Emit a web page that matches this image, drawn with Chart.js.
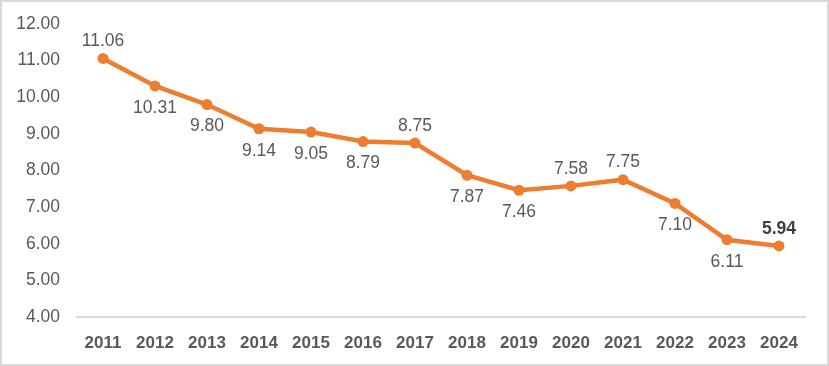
<!DOCTYPE html>
<html>
<head>
<meta charset="utf-8">
<script src="https://cdn.jsdelivr.net/npm/chart.js@4"></script>
<style>
html,body{margin:0;padding:0;background:#fff;}
#wrap{width:829px;height:366px;box-sizing:border-box;border:2px solid #d9d9d9;position:relative;}
</style>
</head>
<body>
<div id="wrap"><canvas id="c"></canvas></div>
<script>
const categories = ['2011','2012','2013','2014','2015','2016','2017','2018','2019','2020','2021','2022','2023','2024'];
const values = [11.06, 10.31, 9.80, 9.14, 9.05, 8.79, 8.75, 7.87, 7.46, 7.58, 7.75, 7.10, 6.11, 5.94];
const labelSide = ['above','below','below','below','below','below','above','below','below','above','above','below','below','above'];
const boldLabel = [false,false,false,false,false,false,false,false,false,false,false,false,false,true];
const yTicks = [4,5,6,7,8,9,10,11,12];

const FONT = '"Liberation Sans", Arial, sans-serif';
const TEXT = '#595959';
const ORANGE = '#ED7D31';

const labelPlugin = {
  id: 'valueLabels',
  afterDatasetsDraw(chart) {
    const ctx = chart.ctx;
    const meta = chart.getDatasetMeta(0);
    ctx.save();
    ctx.textAlign = 'center';
    ctx.textBaseline = 'middle';
    meta.data.forEach((pt, i) => {
      ctx.font = (boldLabel[i] ? 'bold ' : '') + '17.5px ' + FONT;
      ctx.fillStyle = boldLabel[i] ? '#404040' : TEXT;
      const dy = labelSide[i] === 'above' ? -17 : 22;
      ctx.fillText(values[i].toFixed(2), pt.x, pt.y + dy);
    });
    ctx.restore();
  }
};

new Chart(document.getElementById('c'), {
  type: 'line',
  data: {
    labels: categories,
    datasets: [{
      data: values,
      borderColor: ORANGE,
      backgroundColor: ORANGE,
      borderWidth: 4.5,
      pointRadius: 5.5,
      pointBackgroundColor: ORANGE,
      pointBorderColor: ORANGE,
      pointBorderWidth: 0,
      tension: 0,
      fill: false
    }]
  },
  options: {
    responsive: true,
    maintainAspectRatio: false,
    animation: false,
    layout: { padding: { left: 0, right: 22, top: 22, bottom: 0 } },
    plugins: { legend: { display: false }, tooltip: { enabled: false } },
    scales: {
      x: {
        offset: true,
        grid: { display: false, drawTicks: false },
        border: { display: true, color: '#d9d9d9', width: 2 },
        ticks: { color: TEXT, font: { family: FONT, size: 17, weight: 'bold' }, padding: 16, maxRotation: 0 },
        afterFit(s) { s.height = 47; s.paddingLeft = 0; s.paddingRight = 0; }
      },
      y: {
        min: 4, max: 12,
        grid: { display: false, drawTicks: false },
        border: { display: false },
        afterBuildTicks(s) { s.ticks = yTicks.map(v => ({ value: v })); },
        ticks: { color: TEXT, font: { family: FONT, size: 17.5 }, padding: 17, callback: v => Number(v).toFixed(2) },
        afterFit(s) { s.width = 75; s.paddingTop = 0; s.paddingBottom = 0; }
      }
    }
  },
  plugins: [labelPlugin]
});
</script>
</body>
</html>
